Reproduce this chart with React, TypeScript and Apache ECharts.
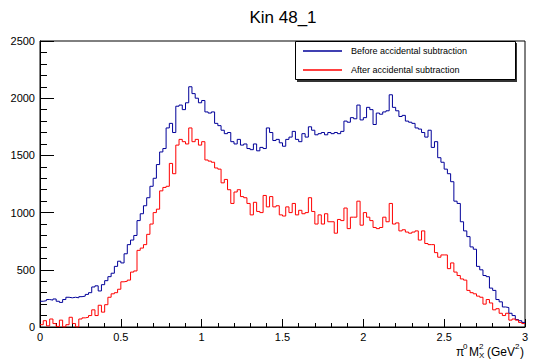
import React, { useEffect, useRef } from "react";
import * as echarts from "echarts";

const title = "Kin 48_1";
const seriesNames = ["Before accidental subtraction", "After accidental subtraction"];
const xTicks = [0, 0.5, 1, 1.5, 2, 2.5, 3];
const yTicks = [0, 500, 1000, 1500, 2000, 2500];
const binStart = 0;
const binWidth = 0.02;

const before = [
  225, 230, 240, 235, 245, 225, 215, 240, 260, 255,
  260, 255, 265, 270, 285, 300, 350, 360, 315, 370,
  405, 440, 470, 530, 575, 560, 640, 720, 760, 800,
  930, 990, 1060, 1130, 1230, 1300, 1420, 1530, 1560, 1740,
  1780, 1700, 1930, 1940, 1900, 1960, 2100, 2040, 2000, 1960,
  1980, 1880, 1870, 1880, 1780, 1760, 1720, 1690, 1700, 1620,
  1600, 1640, 1590, 1600, 1560, 1550, 1600, 1540, 1570, 1560,
  1740, 1700, 1630, 1640, 1610, 1580, 1640, 1660, 1710, 1640,
  1620, 1690, 1660, 1750, 1720, 1680, 1690, 1700, 1680, 1700,
  1690, 1700, 1690, 1710, 1800, 1790, 1830, 1820, 1940, 1810,
  1830, 1920, 1900, 1770, 1870, 1860, 1880, 1890, 2030, 1920,
  1890, 1840, 1850, 1800, 1790, 1780, 1740, 1730, 1700, 1660,
  1720, 1570, 1620, 1480, 1440, 1380, 1340, 1270, 1100, 1080,
  920, 840, 790, 700, 680, 530, 500, 450, 440, 340,
  320, 240, 220, 175, 170, 120, 100, 65, 55, 40,
];

const after = [
  20, 55, 10, 70, 30, 5, 60, 0, 20, 85,
  30, 0, 70, 80, 85, 100, 150, 100, 190, 130,
  195, 260, 290, 300, 330, 395, 400, 410, 480, 490,
  670, 690, 720, 810, 900, 1000, 1030, 1190, 1220, 1230,
  1430, 1340, 1590, 1640, 1620, 1600, 1740, 1620, 1640, 1590,
  1620, 1460, 1450, 1440, 1390, 1380, 1260, 1290, 1200, 1080,
  1180, 1200, 1140, 1130, 1080, 980, 1090, 1010, 1000, 1150,
  1050, 1140, 1050, 1060, 980, 970, 1050, 1000, 1080, 980,
  1020, 990, 1000, 1130, 1010, 900, 980, 900, 990, 920,
  920, 820, 940, 930, 1040, 860, 960, 960, 1100, 890,
  1000, 960, 930, 870, 860, 870, 960, 920, 1080, 900,
  910, 840, 850, 830, 820, 830, 840, 760, 840, 730,
  720, 720, 650, 610, 630, 630, 510, 560, 480, 450,
  420, 410, 320, 300, 290, 270, 260, 200, 240, 210,
  150, 160, 120, 100, 120, 60, 70, 60, 40, 30,
];

const colors = ["#000099", "#ff0000"];
const FONT = "'Liberation Sans', Arial, Helvetica, sans-serif";

function toSteps(vals: number[]) {
  const pts = vals.map((v, i) => [binStart + i * binWidth, v]);
  pts.push([binStart + vals.length * binWidth, vals[vals.length - 1]]);
  return pts;
}

export default function App() {
  const ref = useRef<HTMLDivElement>(null);
  useEffect(() => {
    const chart = echarts.init(ref.current!, null, { renderer: "svg" });
    const txt = (x: number, y: number, text: string, size: number) => ({
      type: "text",
      x,
      y,
      style: { text, fontSize: size, fontFamily: FONT, fill: "#000", textVerticalAlign: "middle" },
    });
    chart.setOption({
      animation: false,
      backgroundColor: "#fff",
      grid: { left: 40, right: 8, top: 41, bottom: 33, show: true, borderColor: "#000", borderWidth: 1, backgroundColor: "transparent" },
      xAxis: {
        type: "value",
        min: xTicks[0],
        max: xTicks[xTicks.length - 1],
        interval: xTicks[1] - xTicks[0],
        axisLine: { show: true, lineStyle: { color: "#000", width: 1 } },
        axisTick: { show: true, inside: true, length: 8, lineStyle: { color: "#000" } },
        minorTick: { show: true, splitNumber: 5, length: 4, lineStyle: { color: "#000" } },
        splitLine: { show: false },
        axisLabel: { color: "#000", fontSize: 11, fontFamily: FONT, margin: 4, formatter: (v: number) => String(v) },
      },
      yAxis: {
        type: "value",
        min: yTicks[0],
        max: yTicks[yTicks.length - 1],
        interval: yTicks[1] - yTicks[0],
        axisLine: { show: true, lineStyle: { color: "#000", width: 1 } },
        axisTick: { show: true, inside: true, length: 14, lineStyle: { color: "#000" } },
        minorTick: { show: true, splitNumber: 5, length: 7, lineStyle: { color: "#000" } },
        splitLine: { show: false },
        axisLabel: { color: "#000", fontSize: 11, fontFamily: FONT, margin: 5, formatter: (v: number) => String(v) },
      },
      series: [
        {
          name: seriesNames[0],
          type: "line",
          step: "end",
          data: toSteps(before),
          showSymbol: false,
          symbol: "none",
          lineStyle: { color: colors[0], width: 1 },
          itemStyle: { color: colors[0] },
        },
        {
          name: seriesNames[1],
          type: "line",
          step: "end",
          data: toSteps(after),
          showSymbol: false,
          symbol: "none",
          lineStyle: { color: colors[1], width: 1 },
          itemStyle: { color: colors[1] },
        },
      ],
      graphic: [
        {
          type: "text",
          x: 283,
          y: 17,
          style: { text: title, fontSize: 17, fontFamily: FONT, fill: "#000", textAlign: "center", textVerticalAlign: "middle" },
        },
        { type: "rect", shape: { x: 297, y: 43, width: 220, height: 39 }, style: { fill: "#333" }, z: 10 },
        { type: "rect", shape: { x: 295.5, y: 41.5, width: 220, height: 38 }, style: { fill: "#fff", stroke: "#000", lineWidth: 1 }, z: 11 },
        { type: "line", shape: { x1: 303, y1: 51, x2: 342, y2: 51 }, style: { stroke: colors[0], lineWidth: 1.5 }, z: 12 },
        { type: "line", shape: { x1: 303, y1: 70, x2: 342, y2: 70 }, style: { stroke: colors[1], lineWidth: 1.5 }, z: 12 },
        { type: "text", x: 351, y: 51, style: { text: seriesNames[0], fontSize: 9, fontFamily: FONT, fill: "#000", textVerticalAlign: "middle" }, z: 12 },
        { type: "text", x: 351, y: 70, style: { text: seriesNames[1], fontSize: 9, fontFamily: FONT, fill: "#000", textVerticalAlign: "middle" }, z: 12 },
        txt(456, 352, "π", 12),
        txt(463, 346, "0", 8),
        txt(469, 352, "M", 12),
        txt(479, 346.5, "2", 8),
        txt(479, 355, "X", 8),
        txt(487, 352, "(GeV", 12),
        txt(515, 346.5, "2", 8),
        txt(520, 352, ")", 12),
      ],
    });
    return () => chart.dispose();
  }, []);
  return <div ref={ref} style={{ position: "fixed", left: 0, top: 0, width: 533, height: 360, background: "#fff" }} />;
}
